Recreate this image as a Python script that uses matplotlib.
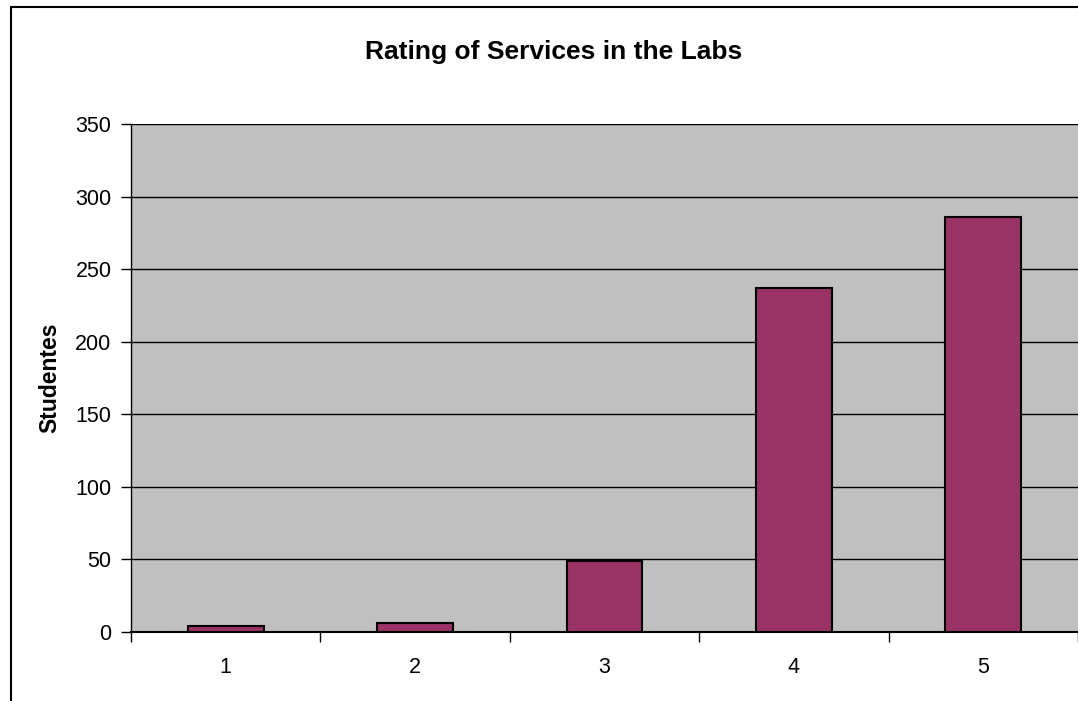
import numpy as np
import matplotlib
matplotlib.use("Agg")
import matplotlib.pyplot as plt
from matplotlib.patches import Rectangle

# data
ratings = ["1", "2", "3", "4", "5"]
students = [4, 6, 49, 237, 286]
y_ticks = [0, 50, 100, 150, 200, 250, 300, 350]

plt.rcParams["font.family"] = ["Liberation Sans", "DejaVu Sans"]

fig = plt.figure(figsize=(10.78, 7.01), dpi=100)
ax = fig.add_axes([131 / 1078, 1 - 632 / 701, 1 - 131 / 1078, (632 - 124) / 701])
ax.set_facecolor("#C0C0C0")

x = np.arange(len(ratings))
ax.bar(x, students, width=0.4, color="#993366", edgecolor="black", linewidth=1.5, zorder=3)

ax.set_xlim(-0.5, len(ratings) - 0.5)
ax.set_ylim(0, 350)
ax.set_yticks(y_ticks)
ax.yaxis.grid(True, color="black", linewidth=1, zorder=1)
ax.set_axisbelow(True)

# category labels centred, tick marks on the boundaries
ax.set_xticks(x)
ax.set_xticklabels(ratings)
ax.tick_params(axis="x", length=0, pad=18, labelsize=15.5)
ax.set_xticks(np.arange(-0.5, len(ratings)), minor=True)
ax.tick_params(axis="x", which="minor", length=7, width=1, direction="out")
ax.tick_params(axis="y", length=7, width=1, direction="out", labelsize=15.5, pad=7)

for s in ["top", "right"]:
    ax.spines[s].set_visible(False)
ax.spines["left"].set_linewidth(1)
ax.spines["bottom"].set_linewidth(1.5)

ax.set_ylabel("Studentes", fontsize=16.5, fontweight="bold", labelpad=10)
fig.text(554 / 1078, 1 - 52 / 701, "Rating of Services in the Labs", ha="center", va="center",
         fontsize=19, fontweight="bold")

# chart border, cut off at the right and bottom
fig.patches.append(Rectangle((11 / 1078, -0.1), 1.2, 1 - 7 / 701 + 0.1, transform=fig.transFigure,
                             fill=False, edgecolor="black", linewidth=1.5))

fig.savefig("out.png", dpi=100)
